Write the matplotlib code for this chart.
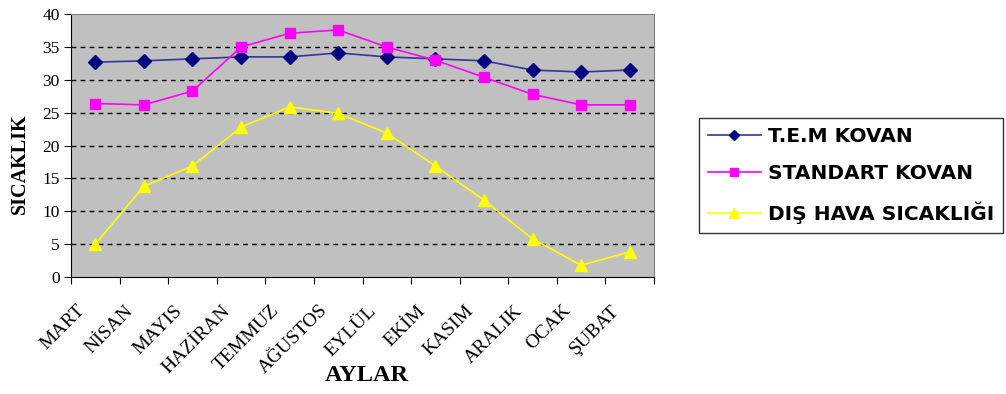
import matplotlib.pyplot as plt
from matplotlib.ticker import MultipleLocator
from matplotlib.transforms import ScaledTranslation
import numpy as np

months = ["MART", "NİSAN", "MAYIS", "HAZİRAN", "TEMMUZ", "AĞUSTOS",
          "EYLÜL", "EKİM", "KASIM", "ARALIK", "OCAK", "ŞUBAT"]
tem_kovan = [32.7, 32.9, 33.2, 33.5, 33.5, 34.1, 33.5, 33.2, 32.9, 31.5, 31.2, 31.5]
standart_kovan = [26.4, 26.2, 28.3, 35.0, 37.1, 37.6, 35.0, 33.0, 30.4, 27.8, 26.2, 26.2]
dis_hava = [5.0, 13.8, 16.9, 22.8, 25.9, 24.9, 21.9, 16.9, 11.7, 5.8, 1.8, 3.8]

serif = "Liberation Serif"
x = np.arange(len(months))

fig = plt.figure(figsize=(10.06, 3.94), dpi=100)
ax = fig.add_axes([0.0706, 0.297, 0.5795, 0.667])
ax.set_facecolor("#C0C0C0")

ax.plot(x, tem_kovan, color="#333399", lw=1.2, marker="D", ms=7,
        mfc="#000080", mec="#000080", label="T.E.M KOVAN", zorder=3)
ax.plot(x, standart_kovan, color="#FF00FF", lw=1.2, marker="s", ms=7.5,
        mfc="#FF00FF", mec="#FF00FF", label="STANDART KOVAN", zorder=3)
ax.plot(x, dis_hava, color="#FFFF00", lw=1.2, marker="^", ms=9,
        mfc="#FFFF00", mec="#FFFF00", label="DIŞ HAVA SICAKLIĞI", zorder=3)

ax.set_ylim(0, 40)
ax.set_xlim(-0.5, len(months) - 0.5)
ax.yaxis.set_major_locator(MultipleLocator(5))
for v in range(5, 40, 5):
    ax.axhline(v, color="black", lw=1.0, ls=(0, (3.5, 3)), zorder=1)

# category labels, drawn left of the category centre like Excel does
ax.set_xticks(np.arange(-0.5, len(months)))
ax.set_xticklabels([])
ax.tick_params(axis="x", length=5, direction="out", color="black")
shift = ScaledTranslation(-19 / 100, -25 / 100, fig.dpi_scale_trans)
for xi, name in zip(x, months):
    ax.text(xi, 0, name, transform=ax.get_xaxis_transform() + shift,
            rotation=45, ha="right", va="top", rotation_mode="anchor",
            fontfamily=serif, fontsize=14)

ax.tick_params(axis="y", length=5, direction="out", color="black", pad=3)
for lbl in ax.get_yticklabels():
    lbl.set_fontfamily(serif)
    lbl.set_fontsize(12.5)

for side in ["top", "right"]:
    ax.spines[side].set_color("#808080")
for side in ["left", "bottom"]:
    ax.spines[side].set_color("black")

ax.set_ylabel("SICAKLIK", fontfamily=serif, fontsize=14.5, fontweight="bold")
ax.yaxis.set_label_coords(-0.071, 0.43)
ax.set_xlabel("AYLAR", fontfamily=serif, fontsize=17.5, fontweight="bold")
ax.xaxis.set_label_coords(0.508, -0.335)

leg = fig.legend(loc="upper left", bbox_to_anchor=(0.695, 0.70),
                 prop={"family": "DejaVu Sans", "weight": "bold", "size": 14.5},
                 frameon=True, fancybox=False, edgecolor="black",
                 handlelength=2.6, handletextpad=0.35, borderpad=0.45,
                 labelspacing=0.9, markerscale=0.8, borderaxespad=0)
leg.get_frame().set_linewidth(1.0)

fig.savefig("out.png", dpi=100)
